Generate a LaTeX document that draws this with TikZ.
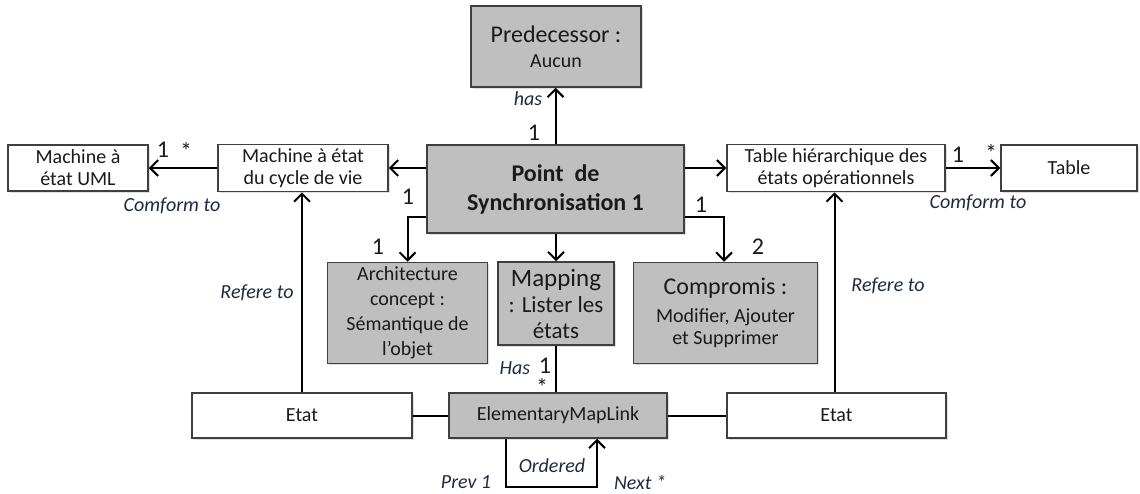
\documentclass[tikz,border=0pt]{standalone}
\usepackage{fontspec}
\setmainfont{Carlito}
\usetikzlibrary{arrows.meta,shadows}
\definecolor{BoxGray}{HTML}{BFBFBF}
\definecolor{BoxLine}{HTML}{3F3F3F}
\definecolor{BoxInk}{HTML}{1A1A1A}
\definecolor{LabelInk}{HTML}{1F2A40}

\tikzset{
  umlbox/.style={draw=BoxLine, line width=0.75pt, fill=white, text=BoxInk,
    align=center, inner sep=2pt, font=\fontsize{10}{11}\selectfont,
    drop shadow={shadow xshift=0.8pt, shadow yshift=-0.8pt, opacity=0.25}},
  graybox/.style={umlbox, fill=BoxGray},
  conn/.style={line width=1pt, -{Straight Barb[length=4pt,width=8pt]}},
  link/.style={line width=1pt},
  lbl/.style={font=\fontsize{10}{11}\selectfont\itshape, text=LabelInk, inner sep=0pt},
  mult/.style={font=\fontsize{12}{12}\selectfont, text=BoxInk, inner sep=0pt}
}

\begin{document}
\begin{tikzpicture}[x=0.5pt, y=-0.5pt]
  \useasboundingbox (0,0) rectangle (1140,493);

  % boxes
  \node[graybox, minimum width=85pt, minimum height=40.5pt,
    font=\fontsize{10}{12.5}\selectfont] (pred) at (556,46.5)
    {{\fontsize{12}{12.5}\selectfont Predecessor :}\\Aucun};
  \node[graybox, minimum width=128.5pt, minimum height=44pt,
    font=\fontsize{12}{14.5}\selectfont\bfseries] (point) at (555.5,189)
    {Point\ \ de\\Synchronisation 1};
  \node[umlbox, minimum width=70pt, minimum height=23pt] (uml) at (78,168)
    {Machine à\\état UML};
  \node[umlbox, minimum width=85pt, minimum height=23pt] (cycle) at (303,168)
    {Machine à état\\du cycle de vie};
  \node[umlbox, minimum width=109pt, minimum height=23pt] (thier) at (836,168)
    {Table hiérarchique des\\états opérationnels};
  \node[umlbox, minimum width=68pt, minimum height=23pt] (table) at (1069,168)
    {Table};
  \node[graybox, minimum width=80pt, minimum height=50.5pt,
    font=\fontsize{10}{12.5}\selectfont] (arch) at (407.5,313)
    {Architecture\\concept :\\Sémantique de\\l’objet};
  \node[graybox, minimum width=58pt, minimum height=41.5pt,
    font=\fontsize{11.5}{13}\selectfont] (mapping) at (556,303.5)
    {{\fontsize{12.5}{13}\selectfont Mapping}\\: Lister les\\états};
  \node[graybox, minimum width=92pt, minimum height=50.5pt] (comp) at (725.5,313)
    {{\fontsize{12}{14}\selectfont Compromis :}\\[3pt]Modifier, Ajouter\\et Supprimer};
  \node[umlbox, minimum width=110pt, minimum height=22.5pt] (etatL) at (302,415.5)
    {Etat};
  \node[graybox, minimum width=109pt, minimum height=22.5pt] (eml) at (558,415.5)
    {ElementaryMapLink};
  \node[umlbox, minimum width=109.5pt, minimum height=22.5pt] (etatR) at (836.5,415.5)
    {Etat};

  % connectors
  \draw[conn] (point.north) -- (point.north |- pred.south);
  \draw[conn] (point.west |- cycle.east) -- (cycle.east);
  \draw[conn] (point.east |- thier.west) -- (thier.west);
  \draw[conn] (cycle.west) -- (uml.east);
  \draw[conn] (thier.east) -- (table.west);
  \coordinate (pa) at ([yshift=8.5pt]point.south west);
  \coordinate (pc) at ([yshift=8.5pt]point.south east);
  \draw[conn] (pa) -| (arch.north);
  \draw[conn] (pc) -| ([xshift=-0.75pt]comp.north);
  \draw[conn] (point.south -| mapping.north) -- (mapping.north);
  \draw[conn] (etatL.north) -- (etatL.north |- cycle.south);
  \draw[conn] ([xshift=-1pt]etatR.north) -- ([xshift=-1pt]etatR.north |- thier.south);
  \draw[link] (mapping.south) -- (mapping.south |- eml.north);
  \draw[link] (etatL.east) -- (eml.west);
  \draw[link] (eml.east) -- (etatR.west);
  \coordinate (loopa) at ([xshift=-26pt]eml.south);
  \coordinate (loopb) at ([xshift=19.5pt]eml.south);
  \draw[conn] (loopa) -- ++(0,48) -| (loopb);

  % labels
  \node[lbl] (hasl) at (528,99) {has};
  \node[mult] (mpred) at (534,133) {1};
  \node[mult] (muml) at (163,150) {1};
  \node[mult] (suml) at (186,151) {*};
  \node[lbl] (confl) at (172,206) {Comform to};
  \node[mult] (mtab) at (958,155) {1};
  \node[mult] (stab) at (991,153) {*};
  \node[lbl] (confr) at (978,203) {Comform to};
  \node[mult] (mpa) at (408,197) {1};
  \node[mult] (march) at (378,247) {1};
  \node[mult] (mpc) at (701,205) {1};
  \node[mult] (mcomp) at (758,247) {2};
  \node[lbl] (refl) at (257,293) {Refere to};
  \node[lbl] (refr) at (888,286) {Refere to};
  \node[lbl] (hasm) at (515,368) {Has};
  \node[mult] (mmap) at (545,366) {1};
  \node[mult] (smap) at (542,387) {*};
  \node[lbl] (ordl) at (552,466) {Ordered};
  \node[lbl] (prevl) at (466,482) {Prev 1};
  \node[lbl] (nextl) at (640,482) {Next *};
\end{tikzpicture}
\end{document}
